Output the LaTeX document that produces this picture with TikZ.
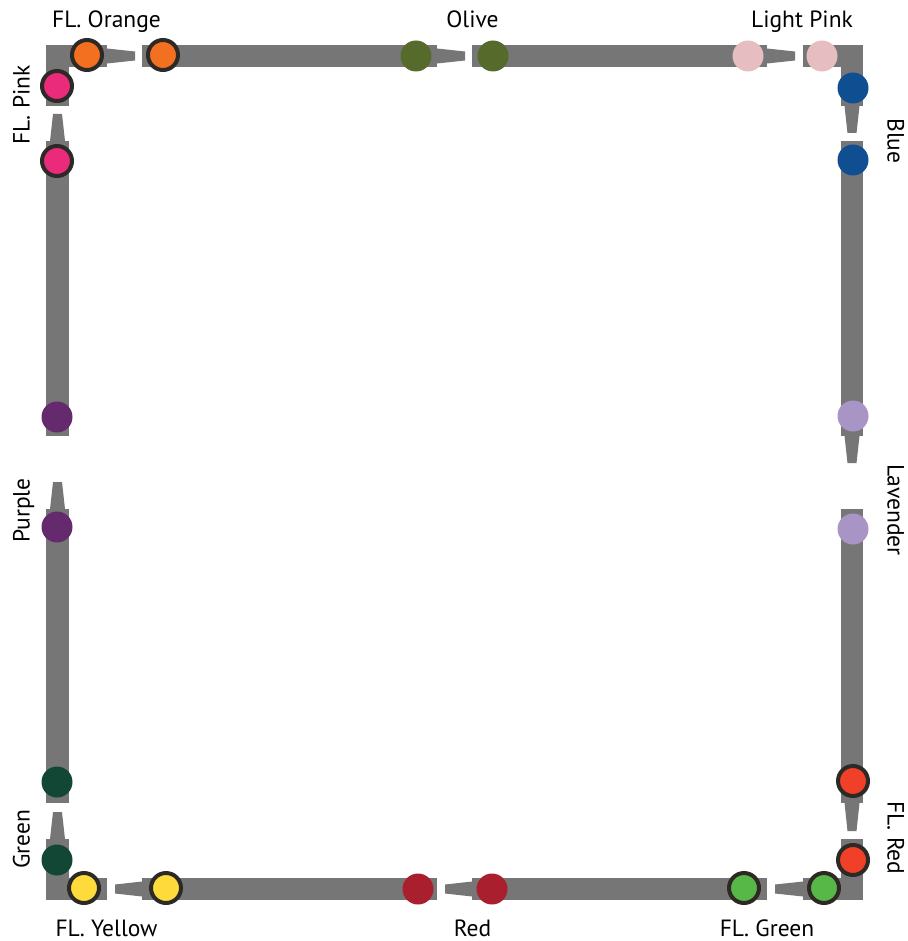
\documentclass[tikz,border=0pt]{standalone}
\usepackage{fontspec}
\setmainfont{PT Sans}
\definecolor{bargray}{HTML}{767676}
\definecolor{ring}{HTML}{2D2926}
\definecolor{cOrange}{HTML}{F37021}
\definecolor{cPink}{HTML}{EA2A7B}
\definecolor{cOlive}{HTML}{566A2C}
\definecolor{cLPink}{HTML}{E6BEC2}
\definecolor{cBlue}{HTML}{0F4E91}
\definecolor{cLav}{HTML}{A994C6}
\definecolor{cPurple}{HTML}{652A6E}
\definecolor{cGreen}{HTML}{124736}
\definecolor{cYellow}{HTML}{FEDB3A}
\definecolor{cRed}{HTML}{AA1F2E}
\definecolor{cFLGreen}{HTML}{58B847}
\definecolor{cFLRed}{HTML}{F04128}
\newcommand{\htaper}[3]{\fill[bar] (#1,#3-7.5) -- (#2,#3-4.5) -- (#2,#3+4.5) -- (#1,#3+7.5) -- cycle;}
\newcommand{\vtaper}[3]{\fill[bar] (#3-7.5,#1) -- (#3-4.5,#2) -- (#3+4.5,#2) -- (#3+7.5,#1) -- cycle;}
\begin{document}
\begin{tikzpicture}[x=1pt,y=-1pt,
  bar/.style={fill=bargray},
  dot/.style={circle,inner sep=0pt,minimum size=31pt},
  fldot/.style={circle,inner sep=0pt,minimum size=30pt,draw=ring,line width=4pt},
  lab/.style={font=\fontsize{23.5}{26}\selectfont,inner sep=0pt,anchor=base}]
\useasboundingbox (0,0) rectangle (907,941);
% ---- bars ----
% top-left corner
\fill[bar] (46,45) rectangle (107,67);
\fill[bar] (46,45) rectangle (69,106);
% top
\htaper{107}{135}{56}
\fill[bar] (142,45) rectangle (437,67);
\htaper{437}{465}{56}
\fill[bar] (472,45) rectangle (767,67);
\htaper{767}{795}{56}
% top-right corner
\fill[bar] (803,45) rectangle (863,67);
\fill[bar] (841,45) rectangle (863,106);
% right
\vtaper{106}{133}{852}
\fill[bar] (841,141) rectangle (863,436);
\vtaper{436}{463}{852}
\fill[bar] (841,509) rectangle (863,803);
\vtaper{803}{831}{852}
% bottom-right corner
\fill[bar] (841,839) rectangle (863,900);
\fill[bar] (803,878) rectangle (863,900);
% bottom
\htaper{803}{775}{889}
\fill[bar] (472,878) rectangle (767,900);
\htaper{472}{445}{889}
\fill[bar] (142,878) rectangle (437,900);
\htaper{142}{115}{889}
% bottom-left corner
\fill[bar] (46,878) rectangle (107,900);
\fill[bar] (46,839) rectangle (69,900);
% left
\vtaper{839}{812}{57.5}
\fill[bar] (46,509) rectangle (69,803);
\vtaper{509}{482}{57.5}
\fill[bar] (46,141) rectangle (69,436);
\vtaper{141}{114}{57.5}
% ---- circles ----
\node[fldot,fill=cOrange] (or1) at (87,55) {};
\node[fldot,fill=cOrange] (or2) at (163,55) {};
\node[dot,fill=cOlive] (ol1) at (416,56) {};
\node[dot,fill=cOlive] (ol2) at (493,56) {};
\node[dot,fill=cLPink] (lp1) at (748,56) {};
\node[dot,fill=cLPink] (lp2) at (822,56) {};
\node[dot,fill=cBlue] (bl1) at (853,88) {};
\node[dot,fill=cBlue] (bl2) at (853,160) {};
\node[dot,fill=cLav] (lv1) at (853,416) {};
\node[dot,fill=cLav] (lv2) at (853,529) {};
\node[fldot,fill=cFLRed] (fr1) at (853,781) {};
\node[fldot,fill=cFLRed] (fr2) at (853,860) {};
\node[fldot,fill=cFLGreen] (fg1) at (744,888) {};
\node[fldot,fill=cFLGreen] (fg2) at (824,888) {};
\node[dot,fill=cRed] (rd1) at (418,889) {};
\node[dot,fill=cRed] (rd2) at (492,889) {};
\node[fldot,fill=cYellow] (ye1) at (84,888) {};
\node[fldot,fill=cYellow] (ye2) at (166,888) {};
\node[fldot,fill=cPink] (pk1) at (57,86) {};
\node[fldot,fill=cPink] (pk2) at (57,161) {};
\node[dot,fill=cPurple] (pu1) at (57,417) {};
\node[dot,fill=cPurple] (pu2) at (57,527) {};
\node[dot,fill=cGreen] (gr1) at (57,782) {};
\node[dot,fill=cGreen] (gr2) at (57,860) {};
% ---- labels ----
\node[lab] (lOrange) at (106.5,28) {FL. Orange};
\node[lab] (lOlive) at (472.5,28) {Olive};
\node[lab] (lLPink) at (802,28) {Light Pink};
\node[lab] (lYellow) at (106.5,936) {FL. Yellow};
\node[lab] (lRed) at (472.5,936) {Red};
\node[lab] (lFLGreen) at (767,936) {FL. Green};
\node[lab,rotate=90] (lPink) at (29.5,105) {FL. Pink};
\node[lab,rotate=90] (lPurple) at (29.5,510.5) {Purple};
\node[lab,rotate=90] (lGreen) at (29.5,839) {Green};
\node[lab,rotate=-90] (lBlue) at (887.5,141) {Blue};
\node[lab,rotate=-90] (lLav) at (887.5,510) {Lavender};
\node[lab,rotate=-90] (lFLRed) at (887.5,838) {FL. Red};
\end{tikzpicture}
\end{document}
